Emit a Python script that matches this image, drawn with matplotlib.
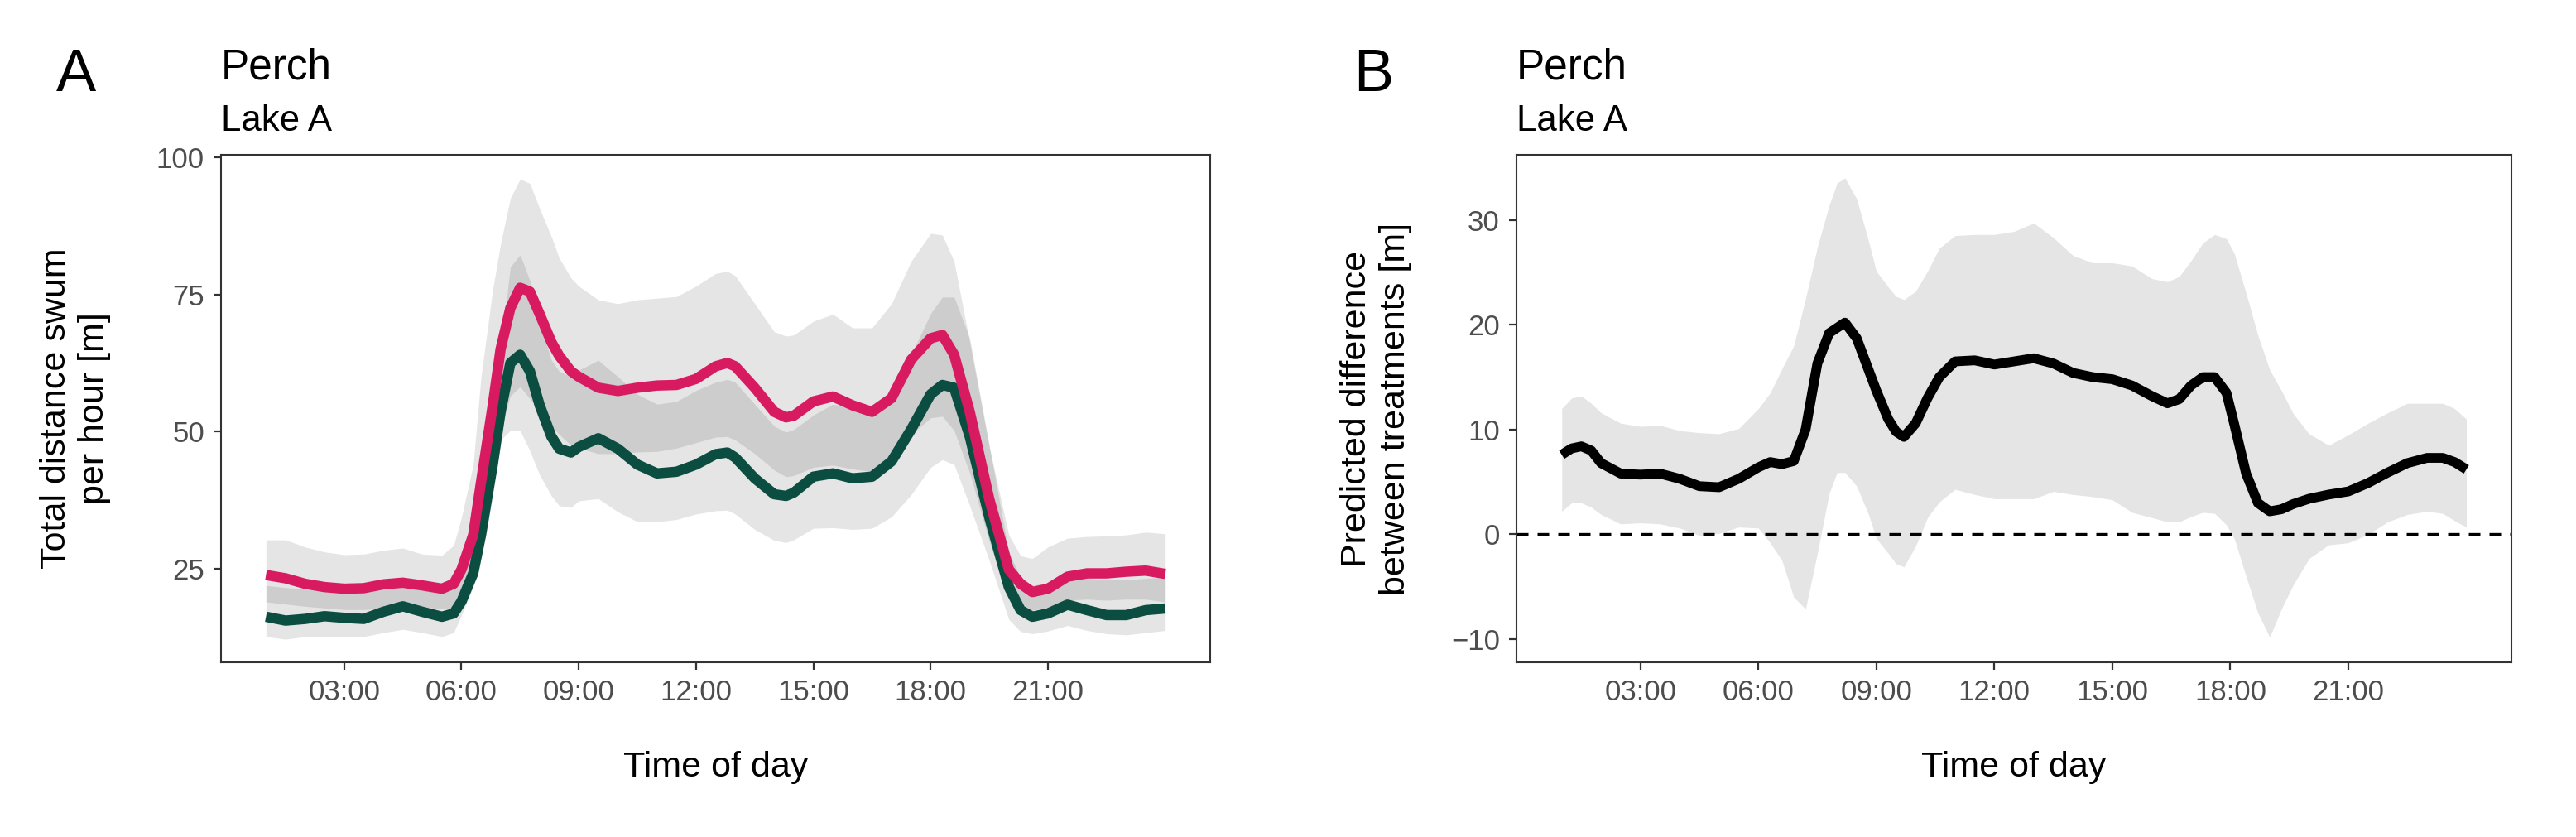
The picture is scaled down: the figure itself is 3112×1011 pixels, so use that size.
import matplotlib
matplotlib.use("Agg")
import matplotlib.pyplot as plt

plt.rcParams["font.family"] = ["Liberation Sans", "DejaVu Sans"]

# ==============================
# DATA
# ==============================
hours = [1.0, 1.5, 2.0, 2.5, 3.0, 3.5, 4.0, 4.5, 5.0, 5.5,
         5.8, 6.0, 6.3, 6.5, 6.8, 7.0, 7.25, 7.5, 7.75, 8.0,
         8.3, 8.5, 8.8, 9.0, 9.5, 10.0, 10.5, 11.0, 11.5, 12.0,
         12.5, 12.8, 13.0, 13.5, 14.0, 14.3, 14.5, 15.0, 15.5, 16.0,
         16.5, 17.0, 17.5, 18.0, 18.3, 18.6, 19.0, 19.5, 20.0, 20.3,
         20.6, 21.0, 21.5, 22.0, 22.5, 23.0, 23.5, 24.0]

# pink treatment
pink_mean = [23.9, 23.3, 22.3, 21.7, 21.4, 21.5, 22.2, 22.5, 22.0, 21.4,
             22.3, 24.9, 31.2, 40.8, 54.8, 65.0, 72.5, 76.2, 75.5, 71.4,
             66.3, 63.8, 61.0, 60.0, 58.0, 57.4, 58.0, 58.4, 58.5, 59.6,
             61.9, 62.5, 61.9, 58.0, 53.6, 52.6, 52.9, 55.5, 56.4, 54.8,
             53.6, 56.1, 63.1, 67.0, 67.6, 64.0, 53.6, 37.7, 24.9, 22.3,
             20.8, 21.4, 23.6, 24.2, 24.2, 24.5, 24.7, 24.1]
pink_hi = [30.3, 30.3, 29.0, 28.1, 27.6, 27.7, 28.4, 28.8, 27.7, 27.5,
           29.3, 34.4, 44.0, 60.0, 75.9, 84.2, 92.5, 96.0, 95.2, 90.6,
           85.5, 81.6, 78.0, 76.5, 74.0, 73.3, 74.0, 74.3, 74.6, 76.5,
           78.8, 79.2, 78.4, 73.3, 68.2, 67.4, 67.6, 70.1, 71.4, 68.9,
           68.9, 73.3, 81.0, 86.1, 85.8, 81.0, 66.3, 47.2, 31.2, 27.4,
           26.9, 29.0, 30.6, 30.9, 31.0, 31.2, 31.7, 31.4]
pink_lo = [19.0, 18.6, 18.2, 17.9, 17.6, 17.6, 17.8, 18.2, 18.0, 17.8,
           18.0, 19.5, 24.0, 30.5, 42.0, 50.0, 56.5, 58.2, 56.0, 53.7,
           51.0, 49.5, 47.5, 47.0, 46.0, 46.0, 46.3, 46.4, 47.0, 48.0,
           49.0, 49.1, 48.5, 46.0, 43.0, 41.8, 42.0, 43.5, 43.9, 43.2,
           42.7, 45.0, 49.5, 52.5, 52.8, 50.2, 42.5, 30.0, 19.5, 18.0,
           17.5, 18.0, 19.3, 19.5, 19.3, 19.5, 19.5, 19.0]

# green control
green_mean = [16.3, 15.6, 15.9, 16.4, 16.1, 15.9, 17.2, 18.2, 17.2, 16.3,
              16.9, 19.1, 24.2, 31.2, 44.0, 53.6, 62.5, 64.0, 61.0, 54.8,
              49.1, 46.9, 46.2, 47.2, 48.8, 46.9, 44.0, 42.4, 42.7, 44.0,
              45.9, 46.2, 45.3, 41.5, 38.6, 38.3, 38.9, 41.8, 42.4, 41.5,
              41.8, 44.6, 50.4, 56.8, 58.5, 58.0, 49.1, 34.4, 21.7, 17.5,
              16.3, 16.9, 18.5, 17.5, 16.6, 16.6, 17.5, 17.8]
green_hi = [22.0, 21.6, 21.3, 21.1, 21.0, 21.0, 21.5, 22.0, 21.6, 21.0,
            21.5, 23.5, 28.5, 36.0, 52.0, 65.0, 80.0, 82.2, 77.5, 69.8,
            63.0, 61.0, 60.0, 61.2, 63.0, 60.0, 56.8, 55.0, 55.5, 57.5,
            59.0, 59.5, 59.0, 55.0, 51.0, 49.9, 50.4, 53.0, 55.0, 54.3,
            53.0, 57.0, 64.0, 71.5, 74.5, 74.5, 67.0, 47.5, 28.0, 23.5,
            22.0, 22.5, 23.5, 23.3, 23.0, 23.0, 23.3, 23.5]
green_lo = [12.7, 12.2, 12.7, 12.7, 12.7, 12.7, 13.4, 14.0, 13.4, 12.7,
            13.4, 16.6, 21.7, 29.4, 40.8, 48.5, 50.2, 50.2, 46.5, 42.1,
            38.3, 36.5, 36.2, 37.4, 37.8, 35.4, 33.6, 33.6, 34.0, 35.0,
            35.6, 35.7, 35.0, 32.2, 30.2, 29.8, 30.3, 32.4, 32.5, 32.2,
            32.4, 34.5, 38.5, 43.5, 44.9, 44.0, 36.5, 26.5, 15.8, 13.6,
            13.2, 13.7, 14.7, 13.8, 13.2, 13.0, 13.4, 13.8]

# difference between treatments
diff_hours = [1.0, 1.25, 1.5, 1.75, 2.0, 2.5, 3.0, 3.5, 4.0, 4.5,
              5.0, 5.5, 6.0, 6.3, 6.6, 6.9, 7.2, 7.5, 7.8, 8.0,
              8.2, 8.5, 8.8, 9.0, 9.3, 9.5, 9.7, 10.0, 10.3, 10.6,
              11.0, 11.5, 12.0, 12.5, 13.0, 13.5, 14.0, 14.5, 15.0, 15.5,
              16.0, 16.4, 16.7, 17.0, 17.3, 17.6, 17.9, 18.1, 18.4, 18.7,
              19.0, 19.3, 19.6, 20.0, 20.5, 21.0, 21.5, 22.0, 22.5, 23.0,
              23.4, 23.7, 24.0]
diff_mean = [7.6, 8.2, 8.4, 8.0, 6.8, 5.8, 5.7, 5.8, 5.3, 4.6,
             4.5, 5.3, 6.4, 6.9, 6.7, 7.0, 10.0, 16.3, 19.2, 19.7,
             20.2, 18.7, 15.7, 13.7, 11.0, 9.8, 9.3, 10.6, 13.0, 15.0,
             16.5, 16.6, 16.2, 16.5, 16.8, 16.3, 15.4, 15.0, 14.8, 14.2,
             13.2, 12.5, 12.9, 14.2, 15.0, 15.0, 13.5, 10.5, 5.8, 3.0,
             2.2, 2.4, 2.9, 3.4, 3.8, 4.1, 4.9, 5.9, 6.8, 7.3,
             7.3, 6.9, 6.2]
diff_hi = [12.0, 13.0, 13.2, 12.5, 11.6, 10.6, 10.3, 10.4, 9.9, 9.7,
           9.6, 10.1, 12.0, 13.5, 15.8, 18.0, 22.5, 27.4, 31.4, 33.5,
           34.0, 32.0, 28.0, 25.1, 23.6, 22.7, 22.4, 23.2, 25.1, 27.3,
           28.5, 28.6, 28.6, 28.9, 29.7, 28.3, 26.6, 25.9, 25.9, 25.6,
           24.4, 24.1, 24.6, 26.1, 27.8, 28.6, 28.2, 26.8, 23.0, 19.0,
           15.7, 13.7, 11.5, 9.6, 8.5, 9.5, 10.6, 11.6, 12.5, 12.5,
           12.5, 12.0, 11.0]
diff_lo = [2.2, 3.0, 3.0, 2.6, 1.9, 1.0, 1.1, 1.0, 0.6, -0.1,
           0.1, 0.7, 0.6, -0.8, -2.5, -6.0, -7.1, -1.8, 3.9, 5.9,
           5.9, 4.6, 1.9, -0.4, -1.8, -2.8, -3.1, -1.1, 1.6, 3.1,
           4.3, 3.8, 3.4, 3.4, 3.4, 4.1, 3.8, 3.6, 3.3, 2.1,
           1.6, 1.2, 1.2, 1.7, 2.1, 2.0, 0.9, -0.4, -4.0, -7.5,
           -9.8, -7.1, -4.8, -2.3, -1.0, -0.8, 0.0, 1.2, 1.9, 2.2,
           2.0, 1.3, 0.7]

x_ticks = [3, 6, 9, 12, 15, 18, 21]
x_labels = ["03:00", "06:00", "09:00", "12:00", "15:00", "18:00", "21:00"]
left_yticks = [25, 50, 75, 100]
right_yticks = [-10, 0, 10, 20, 30]

PINK = "#D81B60"
GREEN = "#0B4D41"

# ==============================
# FIGURE
# ==============================
fig = plt.figure(figsize=(31.12, 10.11), dpi=100)
ax1 = fig.add_axes([0.0858, 0.2087, 0.3840, 0.6063])
ax2 = fig.add_axes([0.5887, 0.2087, 0.3863, 0.6063])


def style_axes(ax):
    for sp in ax.spines.values():
        sp.set_color("#333333")
        sp.set_linewidth(1.5)
    ax.tick_params(axis="both", length=6.5, width=1.6, color="#333333",
                   labelcolor="#4D4D4D", labelsize=25, pad=8)
    ax.set_xticks(x_ticks)
    ax.set_xticklabels(x_labels)
    ax.set_xlim(-0.15, 25.15)
    ax.set_xlabel("Time of day", fontsize=31)
    ax.xaxis.set_label_coords(0.5, -0.207)
    ax.xaxis.label.set_va("center")


# ---- panel A ----
ax1.fill_between(hours, pink_lo, pink_hi, color="black", alpha=0.1, linewidth=0)
ax1.fill_between(hours, green_lo, green_hi, color="black", alpha=0.1, linewidth=0)
ax1.plot(hours, green_mean, color=GREEN, lw=9, solid_capstyle="butt", solid_joinstyle="round")
ax1.plot(hours, pink_mean, color=PINK, lw=9, solid_capstyle="butt", solid_joinstyle="round")
ax1.set_ylim(8.0, 100.4)
ax1.set_yticks(left_yticks)
style_axes(ax1)
ax1.set_ylabel("Total distance swum\nper hour [m]", fontsize=31, ha="center", va="center")
ax1.yaxis.set_label_coords(-0.147, 0.5)

# ---- panel B ----
ax2.fill_between(diff_hours, diff_lo, diff_hi, color="black", alpha=0.1, linewidth=0)
ax2.axhline(0, color="black", lw=2.4, dashes=(4.2, 3.3))
ax2.plot(diff_hours, diff_mean, color="black", lw=8.5, solid_capstyle="butt", solid_joinstyle="round")
ax2.set_ylim(-12.2, 36.2)
ax2.set_yticks(right_yticks)
style_axes(ax2)
ax2.set_ylabel("Predicted difference\nbetween treatments [m]", fontsize=31, ha="center", va="center")
ax2.yaxis.set_label_coords(-0.141, 0.5)

# ---- titles and tags ----
for ax, tag, tag_x in [(ax1, "A", 68 / 3112), (ax2, "B", 1635 / 3112)]:
    x0 = ax.get_position().x0
    fig.text(x0, 1 - 95 / 1011, "Perch", fontsize=37, color="black", va="baseline")
    fig.text(x0, 1 - 158 / 1011, "Lake A", fontsize=31.5, color="black", va="baseline")
    fig.text(tag_x, 1 - 110 / 1011, tag, fontsize=52, color="black", va="baseline")

fig.savefig("out.png", dpi=100)
